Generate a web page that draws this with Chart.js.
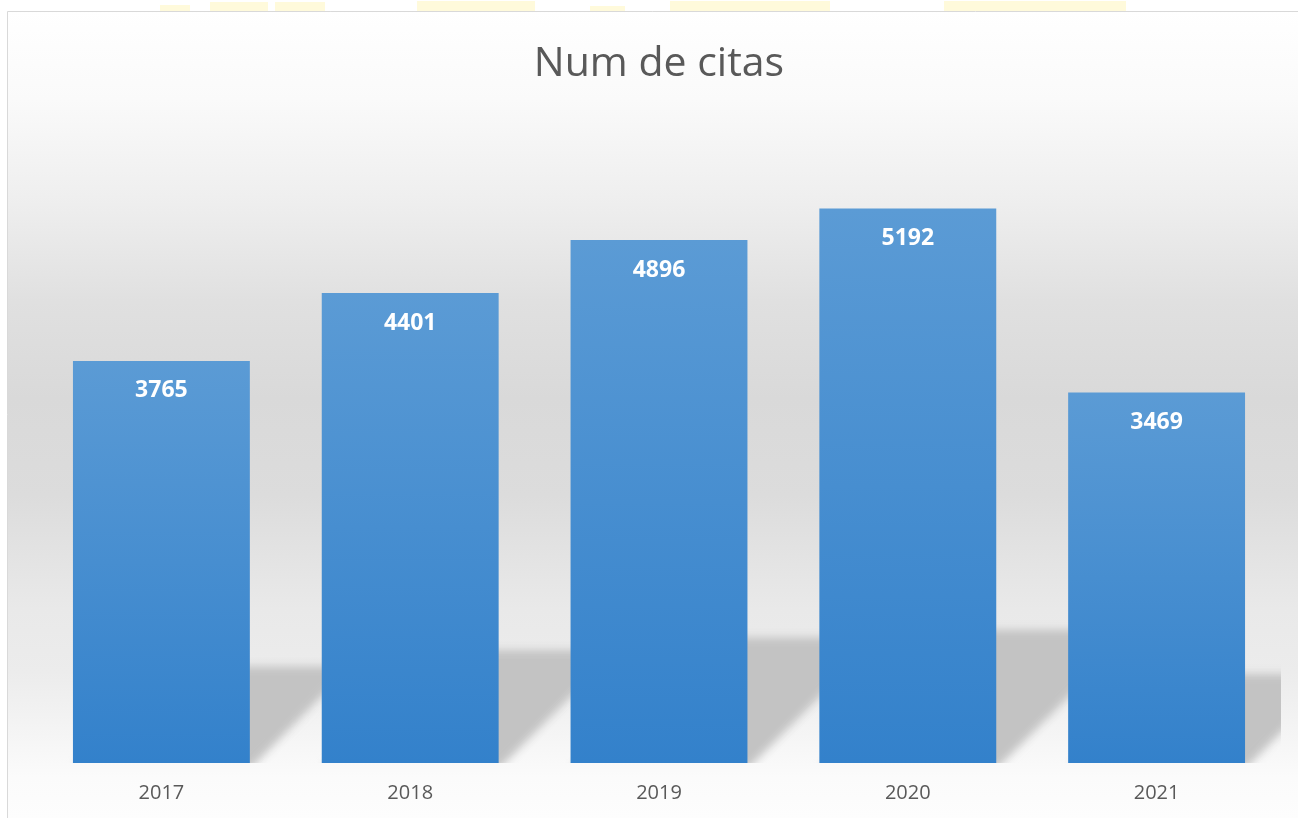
<!DOCTYPE html>
<html>
<head>
<meta charset="utf-8">
<script src="https://cdn.jsdelivr.net/npm/chart.js@4.4.1/dist/chart.umd.min.js"></script>
<style>
  html, body { margin: 0; padding: 0; background: #ffffff; }
  #wrap { width: 1298px; height: 818px; }
</style>
</head>
<body>
<div id="wrap"><canvas id="myChart" width="1298" height="818"></canvas></div>
<script>
// data
var years = ["2017", "2018", "2019", "2020", "2021"];
var citas = [3765, 4401, 4896, 5192, 3469];
var yMax = 6000;

// grey backdrop, watermark strip and frame line
var backdrop = {
  id: "backdrop",
  beforeDraw: function (chart) {
    var ctx = chart.ctx;
    var w = chart.width, h = chart.height;
    ctx.save();
    ctx.fillStyle = "#ffffff";
    ctx.fillRect(0, 0, w, h);
    var g = ctx.createLinearGradient(0, 11, 0, h);
    g.addColorStop(0, "#ffffff");
    g.addColorStop(0.11, "#fafafa");
    g.addColorStop(0.24, "#eeeeee");
    g.addColorStop(0.36, "#e0e0e0");
    g.addColorStop(0.48, "#d9d9d9");
    g.addColorStop(0.60, "#dcdcdc");
    g.addColorStop(0.74, "#e9e9e9");
    g.addColorStop(0.82, "#ececec");
    g.addColorStop(0.95, "#fbfbfb");
    g.addColorStop(1, "#fdfdfd");
    ctx.fillStyle = g;
    ctx.fillRect(8, 12, w - 8, h - 12);
    // faint yellow watermark peeking above the frame
    ctx.fillStyle = "#fffadb";
    [[160, 30, 6], [210, 58, 9], [275, 50, 9], [417, 118, 10], [590, 35, 5], [670, 160, 10], [944, 182, 10]].forEach(function (s) {
      ctx.fillRect(s[0], 11 - s[2], s[1], s[2]);
    });
    // frame
    ctx.strokeStyle = "#d9d9d9";
    ctx.lineWidth = 1;
    ctx.beginPath();
    ctx.moveTo(7.5, h);
    ctx.lineTo(7.5, 11.5);
    ctx.lineTo(w, 11.5);
    ctx.stroke();
    ctx.restore();
  }
};

// slanted soft shadows thrown behind each bar
var barShadows = {
  id: "barShadows",
  beforeDatasetsDraw: function (chart) {
    var ctx = chart.ctx;
    var area = chart.chartArea;
    var bars = chart.getDatasetMeta(0).data;
    ctx.save();
    ctx.beginPath();
    ctx.rect(area.left, area.top, area.right - area.left, area.bottom - area.top);
    ctx.clip();
    ctx.filter = "blur(4px)";
    ctx.fillStyle = "#c3c3c3";
    bars.forEach(function (bar) {
      var base = bar.base;
      var sh = (base - bar.y) * 0.24;
      var dx = sh * 1.05;
      var x0 = bar.x - bar.width / 2;
      var x1 = bar.x + bar.width / 2;
      ctx.beginPath();
      ctx.moveTo(x0, base + 6);
      ctx.lineTo(x1, base + 6);
      ctx.lineTo(x1 + dx, base - sh);
      ctx.lineTo(x0 + dx, base - sh);
      ctx.closePath();
      ctx.fill();
    });
    ctx.restore();
  }
};

// white value labels inside the top of each bar
var barLabels = {
  id: "barLabels",
  afterDatasetsDraw: function (chart) {
    var ctx = chart.ctx;
    var bars = chart.getDatasetMeta(0).data;
    ctx.save();
    ctx.fillStyle = "#ffffff";
    ctx.font = "bold 23px 'Open Sans'";
    ctx.textAlign = "center";
    ctx.textBaseline = "middle";
    bars.forEach(function (bar, i) {
      ctx.fillText(String(citas[i]), bar.x, bar.y + 30);
    });
    ctx.restore();
  }
};

function barFill(context) {
  var chart = context.chart;
  if (!chart.chartArea || !chart.scales.y) return "#4a90d2";
  var top = chart.scales.y.getPixelForValue(context.raw);
  var bottom = chart.scales.y.getPixelForValue(0);
  var g = chart.ctx.createLinearGradient(0, top, 0, bottom);
  g.addColorStop(0, "#5b9bd5");
  g.addColorStop(1, "#3381cb");
  return g;
}

var config = {
  type: "bar",
  data: {
    labels: years,
    datasets: [{
      label: "Num de citas",
      data: citas,
      backgroundColor: barFill,
      borderWidth: 0,
      categoryPercentage: 1,
      barPercentage: 0.711
    }]
  },
  options: {
    responsive: false,
    animation: false,
    layout: {
      padding: { left: 37, right: 17, top: 0, bottom: 13 }
    },
    plugins: {
      legend: { display: false },
      tooltip: { enabled: false },
      title: {
        display: true,
        text: "Num de citas",
        color: "#595959",
        font: { family: "'Open Sans'", size: 41, weight: "normal" },
        padding: { top: 40, bottom: 33 }
      }
    },
    scales: {
      x: {
        grid: { display: false, drawTicks: false },
        border: { display: false },
        ticks: {
          color: "#595959",
          padding: 18,
          font: { family: "'Open Sans'", size: 20 }
        },
        afterFit: function (axis) {
          axis.height = 42;
        }
      },
      y: {
        display: false,
        min: 0,
        max: yMax
      }
    }
  },
  plugins: [backdrop, barShadows, barLabels]
};

var chart = new Chart("myChart", config);
</script>
</body>
</html>
